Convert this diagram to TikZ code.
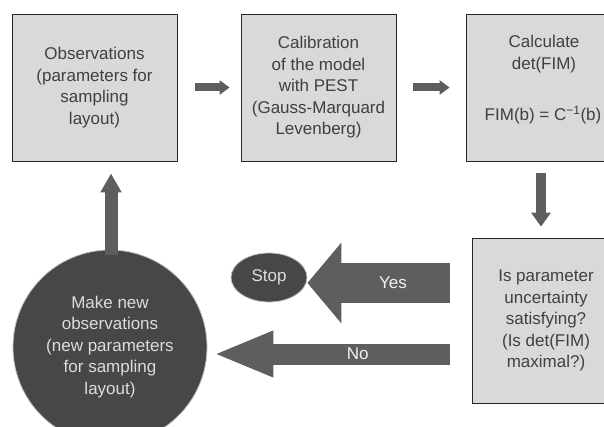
\documentclass[tikz,border=0pt]{standalone}
\usepackage{fontspec}
\setmainfont{Liberation Sans}
\usetikzlibrary{arrows.meta,shapes.geometric}
\definecolor{boxfill}{HTML}{D9D9D9}
\definecolor{boxtext}{HTML}{404040}
\definecolor{arrowgray}{HTML}{5E5E5E}
\definecolor{darkfill}{HTML}{474747}
\definecolor{lighttext}{HTML}{DCDCDC}
\begin{document}
\begin{tikzpicture}[x=1pt,y=-1pt,
  every node/.style={font=\fontsize{17}{21.5}\selectfont, align=center, inner sep=0pt},
  procbox/.style={draw=black!85, line width=0.8pt, fill=boxfill, text=boxtext, minimum height=147pt},
  smallarrow/.style={draw=arrowgray, line width=8pt, -{Triangle[length=10pt,width=14pt]}},
  midarrow/.style={draw=arrowgray, line width=10pt, -{Triangle[length=14pt,width=19pt]}},
  uparrow/.style={draw=arrowgray, line width=13pt, -{Triangle[length=19pt,width=20pt]}},
  yesarrow/.style={draw=arrowgray, line width=40pt, -{Triangle[length=34pt,width=79pt]}},
  noarrow/.style={draw=arrowgray, line width=21pt, -{Triangle[length=60pt,width=42pt]}},
  darkshape/.style={fill=darkfill, draw=black!25, line width=0.8pt, text=lighttext}
]
\useasboundingbox (0,0) rectangle (604,427);
\clip (0,0) rectangle (604,427);

\node[procbox, minimum width=165pt] (obs) at (94.5,87.5)
  {Observations\\(parameters for\\sampling\\layout)};
\node[procbox, minimum width=155pt] (cal) at (318.5,87.5)
  {Calibration\\of the model\\with PEST\\(Gauss-Marquard\\Levenberg)};
\node[procbox, minimum width=156pt] (fim) at (544,87.5) {};
\node[text=boxtext] (fimtop) at (544,54) {Calculate\\det(FIM)};
\node[text=boxtext] (fimeq) at (543,115) {FIM(b) = C\textsuperscript{−1}(b)};
\node[procbox, minimum width=148pt, minimum height=165pt] (unc) at (546,320.5)
  {Is parameter\\uncertainty\\satisfying?\\(Is det(FIM)\\maximal?)};

\node[darkshape, circle, minimum size=194pt] (new) at (110,347)
  {Make new\\observations\\(new parameters\\for sampling\\layout)};
\node[darkshape, ellipse, minimum width=76pt, minimum height=49pt] (stop) at (269,277.5) {Stop};

\draw[smallarrow, shorten <=18pt, shorten >=11pt] (obs.east) -- (cal.west);
\draw[smallarrow, shorten <=17pt, shorten >=16pt] (cal.east) -- (fim.west);
\draw[midarrow, shorten <=12pt, shorten >=11pt] ([xshift=-3pt]fim.south) -- ([xshift=-5pt]unc.north);
\draw[uparrow, shorten <=-5pt, shorten >=12pt] ([xshift=1pt]new.north) -- ([xshift=1pt]new.north |- obs.south);

\coordinate (yesstart) at (450,283);
\coordinate (nostart) at (450,354);
\draw[yesarrow] (yesstart) -- (stop.east |- yesstart) node[pos=0.4, text=white!95!black] (yes) {Yes};
\draw[noarrow, shorten >=6pt] (nostart) -- (new.east |- nostart) node[pos=0.38, text=white!95!black] (no) {No};
\end{tikzpicture}
\end{document}
